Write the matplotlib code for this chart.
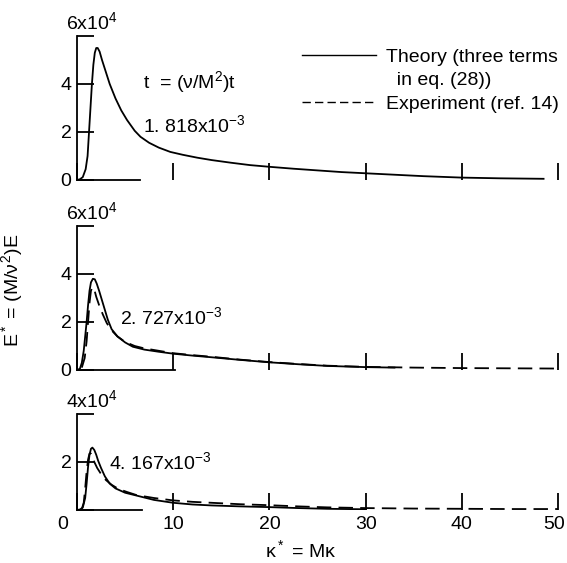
import numpy as np
import matplotlib
matplotlib.use("Agg")
import matplotlib.pyplot as plt
from matplotlib.lines import Line2D
from matplotlib.transforms import ScaledTranslation

plt.rcParams['font.family'] = ['Liberation Sans', 'DejaVu Sans']
plt.rcParams['mathtext.fontset'] = 'custom'
plt.rcParams['mathtext.rm'] = 'Liberation Sans'
plt.rcParams['mathtext.it'] = 'Liberation Sans'
plt.rcParams['font.size'] = 14

# E* values are in units of 10^4
# t* = 1.818e-3 (theory only)
k_th1 = [0, 0.3, 0.6, 0.9, 1.1, 1.25, 1.4, 1.55, 1.7, 1.85, 2.0, 2.15, 2.35, 2.6, 3.0, 3.4,
         4.0, 4.6, 5.2, 6.0, 6.6, 7.5, 8.5, 9.7, 11, 12.5, 14, 16, 18, 20, 22.5, 25, 27.5,
         30, 33, 36, 40, 44, 48.5]
e_th1 = [0, 0.03, 0.12, 0.45, 1.0, 2.0, 3.0, 4.0, 4.8, 5.3, 5.5, 5.5, 5.35, 5.0, 4.5, 4.0,
         3.4, 2.9, 2.5, 2.05, 1.8, 1.55, 1.35, 1.17, 1.05, 0.93, 0.83, 0.72, 0.62, 0.55, 0.47,
         0.4, 0.33, 0.28, 0.22, 0.16, 0.1, 0.07, 0.05]

# t* = 2.727e-3
k_th2 = [0, 0.3, 0.5, 0.7, 0.85, 1.0, 1.15, 1.3, 1.45, 1.65, 1.85, 2.05, 2.3, 2.6, 2.9, 3.2,
         3.6, 4.2, 5.0, 5.8, 7.0, 8.5, 10, 12, 14, 17, 20, 23, 26, 30, 33]
e_th2 = [0, 0.05, 0.3, 0.8, 1.4, 2.0, 2.7, 3.3, 3.65, 3.8, 3.78, 3.6, 3.3, 2.9, 2.5, 2.1,
         1.7, 1.4, 1.15, 0.97, 0.85, 0.76, 0.68, 0.6, 0.53, 0.42, 0.32, 0.24, 0.17, 0.12, 0.1]
k_ex2 = [0.5, 0.8, 1.0, 1.15, 1.3, 1.45, 1.6, 1.8, 2.0, 2.3, 2.7, 3.1, 3.6, 4.2, 5.0, 6.0,
         7.0, 8.5, 10, 12, 14, 17, 20, 23, 26, 30, 35, 40, 45, 50]
e_ex2 = [0.1, 0.5, 1.2, 2.0, 2.8, 3.3, 3.45, 3.35, 3.05, 2.7, 2.3, 1.95, 1.65, 1.4, 1.17, 1.0,
         0.9, 0.8, 0.7, 0.62, 0.55, 0.43, 0.33, 0.25, 0.18, 0.13, 0.1, 0.08, 0.07, 0.06]

# t* = 4.167e-3
k_th3 = [0, 0.3, 0.6, 0.85, 1.0, 1.15, 1.3, 1.45, 1.6, 1.8, 2.0, 2.2, 2.5, 2.9, 3.4, 4.0,
         5.0, 6.2, 8.0, 10, 12, 14, 17, 20, 23, 26, 30]
e_th3 = [0, 0.02, 0.1, 0.5, 1.1, 1.8, 2.3, 2.55, 2.6, 2.5, 2.3, 2.05, 1.75, 1.4, 1.1, 0.9,
         0.72, 0.6, 0.42, 0.3, 0.23, 0.19, 0.15, 0.12, 0.08, 0.05, 0.03]
k_ex3 = [0.5, 0.7, 0.85, 1.0, 1.15, 1.3, 1.45, 1.6, 1.8, 2.1, 2.5, 3.0, 3.6, 4.3, 5.2, 6.2,
         8.0, 10, 12, 14, 17, 20, 23, 26, 30, 35, 40, 45, 50]
e_ex3 = [0.05, 0.3, 0.9, 1.6, 2.1, 2.35, 2.35, 2.2, 2.0, 1.75, 1.5, 1.25, 1.05, 0.88, 0.75,
         0.62, 0.5, 0.4, 0.34, 0.3, 0.24, 0.2, 0.15, 0.11, 0.08, 0.06, 0.05, 0.04, 0.04]

t_labels = ["1. 818x10$^{-3}$", "2. 727x10$^{-3}$", "4. 167x10$^{-3}$"]
y_tops = [6, 6, 4]
x_ticks = [0, 10, 20, 30, 40, 50]

fig = plt.figure(figsize=(5.67, 5.63), dpi=100)
left, width = 77 / 567, 481 / 567
ax1 = fig.add_axes([left, 1 - 180 / 563, width, 144 / 563])
ax2 = fig.add_axes([left, 1 - 370 / 563, width, 144 / 563])
ax3 = fig.add_axes([left, 1 - 510 / 563, width, 96 / 563])
axes = [ax1, ax2, ax3]
spine_ends = [6.6, 10.2, 6.8]

for ax, ytop, send in zip(axes, y_tops, spine_ends):
    ax.set_xlim(0, 50)
    ax.set_ylim(0, ytop)
    ax.spines['top'].set_visible(False)
    ax.spines['right'].set_visible(False)
    ax.spines['bottom'].set_bounds(0, send)
    for s in ('left', 'bottom'):
        ax.spines[s].set_linewidth(1.3)
    ax.set_xticks(x_ticks)
    yt = list(range(0, ytop + 1, 2))
    ax.set_yticks(yt)
    ax.set_yticklabels([str(v) for v in yt[:-1]] + [""])
    ax.tick_params(direction='in', length=12, width=1.3, pad=4)
    ax.annotate("%dx10$^4$" % ytop, xy=(0, ytop), xytext=(11, 10),
                textcoords='offset points', ha='center', va='center')

ax1.tick_params(axis='x', labelbottom=False)
ax2.tick_params(axis='x', labelbottom=False)
ax3.set_yticklabels(["", "2", ""])
ax3.set_xticklabels([str(v) for v in x_ticks])
xlbls = ax3.get_xticklabels()
xlbls[0].set_transform(xlbls[0].get_transform() + ScaledTranslation(-10 / 72, 0, fig.dpi_scale_trans))
xlbls[-1].set_transform(xlbls[-1].get_transform() + ScaledTranslation(-3 / 72, 0, fig.dpi_scale_trans))

lw = 1.3
dash = (8, 4)
ax1.plot(k_th1, e_th1, color='black', lw=lw)
ax2.plot(k_th2, e_th2, color='black', lw=lw)
ax2.plot(k_ex2, e_ex2, color='black', lw=lw, dashes=dash)
ax3.plot(k_th3, e_th3, color='black', lw=lw)
ax3.plot(k_ex3, e_ex3, color='black', lw=lw, dashes=dash)

ax1.text(6.9, 4.1, "t  = ($\\nu$/M$^2$)t", va='center', ha='left')
ax1.text(6.9, 2.3, t_labels[0], va='center', ha='left')
ax2.text(4.5, 2.2, t_labels[1], va='center', ha='left')
ax3.text(3.3, 2.0, t_labels[2], va='center', ha='left')

handles = [Line2D([], [], color='black', lw=1.0),
           Line2D([], [], color='none'),
           Line2D([], [], color='black', lw=1.0, dashes=(6, 3))]
labels = ["Theory (three terms", "  in eq. (28))", "Experiment (ref. 14)"]
ax1.legend(handles, labels, loc='upper right', bbox_to_anchor=(1.017, 0.97),
           frameon=False, handlelength=3.8, handletextpad=0.5, labelspacing=0.3,
           borderaxespad=0.0)

ax3.set_xlabel("$\\kappa^*$ = M$\\kappa$")
ax3.xaxis.set_label_coords(0.464, -0.30)
fig.text(12 / 567, 1 - 290 / 563, "E$^*$ = (M/$\\nu^2$)E", rotation=90,
         ha='center', va='center')

fig.savefig("out.png", dpi=100)
